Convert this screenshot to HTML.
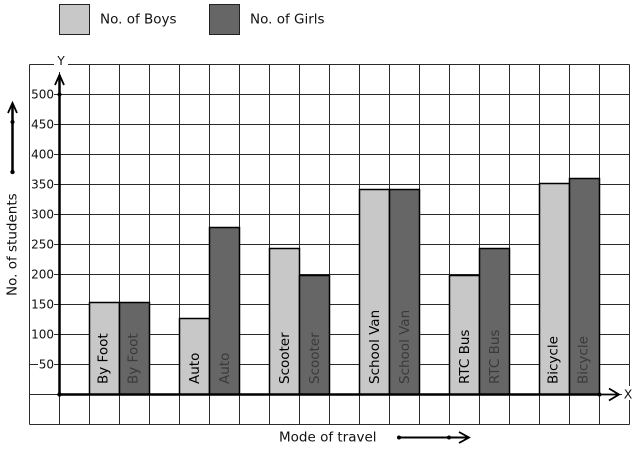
<!DOCTYPE html>
<html><head><meta charset="utf-8"><style>
html,body{margin:0;padding:0;background:#fff;}
svg{display:block;}
text{font-family:"DejaVu Sans","Liberation Sans",sans-serif;}
</style></head><body>
<svg width="637" height="450" viewBox="0 0 637 450" xmlns="http://www.w3.org/2000/svg">
<rect width="637" height="450" fill="#fff"/>
<!-- legend -->
<rect x="59.5" y="4.5" width="30" height="30" fill="#c8c8c8" stroke="#222" stroke-width="1"/>
<text x="100" y="23.3" font-size="13.5" fill="#111">No. of Boys</text>
<rect x="209.5" y="4.5" width="30" height="30" fill="#666" stroke="#222" stroke-width="1"/>
<text x="250" y="23.3" font-size="13.5" fill="#111">No. of Girls</text>
<!-- grid -->
<g stroke="#2a2a2a" stroke-width="1" shape-rendering="crispEdges">
<line x1="29.5" y1="64.5" x2="629.5" y2="64.5"/><line x1="29.5" y1="94.5" x2="629.5" y2="94.5"/>
<line x1="29.5" y1="124.5" x2="629.5" y2="124.5"/><line x1="29.5" y1="154.5" x2="629.5" y2="154.5"/>
<line x1="29.5" y1="184.5" x2="629.5" y2="184.5"/><line x1="29.5" y1="214.5" x2="629.5" y2="214.5"/>
<line x1="29.5" y1="244.5" x2="629.5" y2="244.5"/><line x1="29.5" y1="274.5" x2="629.5" y2="274.5"/>
<line x1="29.5" y1="304.5" x2="629.5" y2="304.5"/><line x1="29.5" y1="334.5" x2="629.5" y2="334.5"/>
<line x1="29.5" y1="364.5" x2="629.5" y2="364.5"/><line x1="29.5" y1="394.5" x2="629.5" y2="394.5"/>
<line x1="29.5" y1="424.5" x2="629.5" y2="424.5"/>
<line x1="29.5" y1="64.5" x2="29.5" y2="424.5"/><line x1="59.5" y1="64.5" x2="59.5" y2="424.5"/>
<line x1="89.5" y1="64.5" x2="89.5" y2="424.5"/><line x1="119.5" y1="64.5" x2="119.5" y2="424.5"/>
<line x1="149.5" y1="64.5" x2="149.5" y2="424.5"/><line x1="179.5" y1="64.5" x2="179.5" y2="424.5"/>
<line x1="209.5" y1="64.5" x2="209.5" y2="424.5"/><line x1="239.5" y1="64.5" x2="239.5" y2="424.5"/>
<line x1="269.5" y1="64.5" x2="269.5" y2="424.5"/><line x1="299.5" y1="64.5" x2="299.5" y2="424.5"/>
<line x1="329.5" y1="64.5" x2="329.5" y2="424.5"/><line x1="359.5" y1="64.5" x2="359.5" y2="424.5"/>
<line x1="389.5" y1="64.5" x2="389.5" y2="424.5"/><line x1="419.5" y1="64.5" x2="419.5" y2="424.5"/>
<line x1="449.5" y1="64.5" x2="449.5" y2="424.5"/><line x1="479.5" y1="64.5" x2="479.5" y2="424.5"/>
<line x1="509.5" y1="64.5" x2="509.5" y2="424.5"/><line x1="539.5" y1="64.5" x2="539.5" y2="424.5"/>
<line x1="569.5" y1="64.5" x2="569.5" y2="424.5"/><line x1="599.5" y1="64.5" x2="599.5" y2="424.5"/>
<line x1="629.5" y1="64.5" x2="629.5" y2="424.5"/>
</g>
<!-- bars -->
<g stroke="#000" stroke-width="1.5">
<rect x="89.5" y="302.5" width="30" height="92" fill="#c8c8c8"/>
<rect x="119.5" y="302.5" width="30" height="92" fill="#666"/>
<rect x="179.5" y="318.5" width="30" height="76" fill="#c8c8c8"/>
<rect x="209.5" y="227.5" width="30" height="167" fill="#666"/>
<rect x="269.5" y="248.5" width="30" height="146" fill="#c8c8c8"/>
<rect x="299.5" y="275.5" width="30" height="119" fill="#666"/>
<rect x="359.5" y="189.5" width="30" height="205" fill="#c8c8c8"/>
<rect x="389.5" y="189.5" width="30" height="205" fill="#666"/>
<rect x="449.5" y="275.5" width="30" height="119" fill="#c8c8c8"/>
<rect x="479.5" y="248.5" width="30" height="146" fill="#666"/>
<rect x="539.5" y="183.5" width="30" height="211" fill="#c8c8c8"/>
<rect x="569.5" y="178.5" width="30" height="216" fill="#666"/>
</g>
<!-- bar labels -->
<g font-size="13.5">
<text transform="translate(107.5,384) rotate(-90)" fill="#000">By Foot</text>
<text transform="translate(137.5,384) rotate(-90)" fill="#3a3a3a">By Foot</text>
<text transform="translate(199,384) rotate(-90)" fill="#000">Auto</text>
<text transform="translate(229,384) rotate(-90)" fill="#3a3a3a">Auto</text>
<text transform="translate(289,384) rotate(-90)" fill="#000">Scooter</text>
<text transform="translate(319,384) rotate(-90)" fill="#3a3a3a">Scooter</text>
<text transform="translate(379,384) rotate(-90)" fill="#000">School Van</text>
<text transform="translate(409,384) rotate(-90)" fill="#3a3a3a">School Van</text>
<text transform="translate(469,384) rotate(-90)" fill="#000">RTC Bus</text>
<text transform="translate(499,384) rotate(-90)" fill="#3a3a3a">RTC Bus</text>
<text transform="translate(557.5,384) rotate(-90)" fill="#000">Bicycle</text>
<text transform="translate(587.5,384) rotate(-90)" fill="#3a3a3a">Bicycle</text>
</g>
<!-- y tick labels with white background -->
<g fill="#fff">
<rect x="30" y="89" width="24" height="11"/>
<rect x="30" y="119" width="24" height="11"/>
<rect x="30" y="149" width="24" height="11"/>
<rect x="30" y="179" width="24" height="11"/>
<rect x="30" y="209" width="24" height="11"/>
<rect x="30" y="239" width="24" height="11"/>
<rect x="30" y="269" width="24" height="11"/>
<rect x="30" y="299" width="24" height="11"/>
<rect x="30" y="329" width="24" height="11"/>
<rect x="38" y="359" width="16" height="11"/>
</g>
<g font-size="12" text-anchor="end" fill="#111">
<text x="54" y="98.5">500</text>
<text x="54" y="128.5">450</text>
<text x="54" y="158.5">400</text>
<text x="54" y="188.5">350</text>
<text x="54" y="218.5">300</text>
<text x="54" y="248.5">250</text>
<text x="54" y="278.5">200</text>
<text x="54" y="308.5">150</text>
<text x="54" y="338.5">100</text>
<text x="54" y="368.5">50</text>
</g>
<!-- Y axis -->
<rect x="54" y="54" width="14" height="18" fill="#fff"/>
<text x="61" y="65" font-size="12" text-anchor="middle" fill="#111">Y</text>
<line x1="59.5" y1="394.5" x2="59.5" y2="75" stroke="#000" stroke-width="2.5"/>
<polyline points="55,85 59.5,75 64,85" fill="none" stroke="#000" stroke-width="1.8"/>
<circle cx="59.5" cy="94.5" r="2" fill="#000"/>
<!-- X axis -->
<line x1="59.5" y1="394.5" x2="599.5" y2="394.5" stroke="#000" stroke-width="2.5"/>
<line x1="599.5" y1="394.5" x2="619" y2="394.5" stroke="#000" stroke-width="1.8"/>
<polyline points="609,388.5 619,394.5 609,400.5" fill="none" stroke="#000" stroke-width="1.8"/>
<circle cx="59.5" cy="394.5" r="2.2" fill="#000"/>
<circle cx="599.5" cy="394.5" r="2" fill="#000"/>
<rect x="622" y="386" width="12" height="14" fill="#fff"/>
<text x="628" y="398.5" font-size="12.5" text-anchor="middle" fill="#111">X</text>
<!-- left axis title and arrow -->
<text transform="translate(16.5,296) rotate(-90)" font-size="13.5" fill="#111">No. of students</text>
<line x1="12.5" y1="172" x2="12.5" y2="104" stroke="#000" stroke-width="2.5"/>
<polyline points="8,113 12.5,103 17,113" fill="none" stroke="#000" stroke-width="1.8"/>
<circle cx="12.5" cy="122" r="2" fill="#000"/>
<circle cx="12.5" cy="172" r="2.2" fill="#000"/>
<!-- bottom title and arrow -->
<text x="279" y="441.5" font-size="13.5" fill="#111">Mode of travel</text>
<line x1="399" y1="437.5" x2="468" y2="437.5" stroke="#000" stroke-width="2"/>
<polyline points="459,432 469,437.5 459,443" fill="none" stroke="#000" stroke-width="1.8"/>
<circle cx="399" cy="437.5" r="2" fill="#000"/>
<circle cx="449" cy="437.5" r="2" fill="#000"/>
</svg>
</body></html>
